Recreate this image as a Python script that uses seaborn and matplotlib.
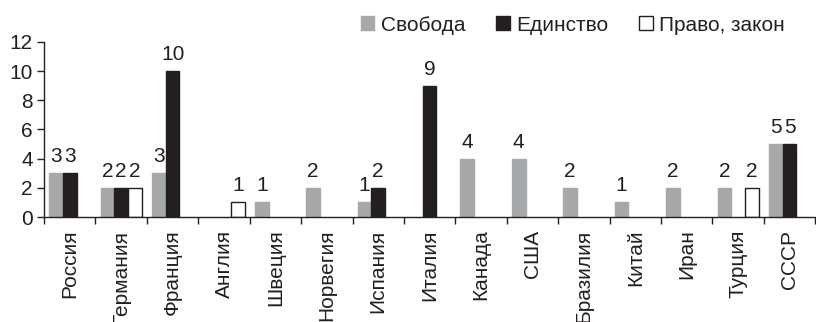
import matplotlib
matplotlib.use("Agg")
import matplotlib.pyplot as plt
import seaborn as sns
import pandas as pd
from matplotlib.patches import Patch
from matplotlib.ticker import FixedLocator

countries = ["Россия", "Германия", "Франция", "Англия", "Швеция", "Норвегия", "Испания",
             "Италия", "Канада", "США", "Бразилия", "Китай", "Иран", "Турция", "СССР"]
series = ["Свобода", "Единство", "Право, закон"]
svoboda = [3, 2, 3, 0, 1, 2, 1, 0, 4, 4, 2, 1, 2, 2, 5]
edinstvo = [3, 2, 10, 0, 0, 0, 2, 9, 0, 0, 0, 0, 0, 0, 5]
pravo = [0, 2, 0, 1, 0, 0, 0, 0, 0, 0, 0, 0, 0, 2, 0]
colors = ["#a7a8aa", "#231f20", "#ffffff"]
edges = ["#a7a8aa", "#231f20", "#231f20"]

rows = []
for s, vals in zip(series, [svoboda, edinstvo, pravo]):
    for c, v in zip(countries, vals):
        rows.append({"country": c, "series": s, "value": v})
df = pd.DataFrame(rows)

sns.set_theme(style="white")
plt.rcParams['font.family'] = ['Liberation Sans', 'DejaVu Sans']
fs = 15

fig = plt.figure(figsize=(8.16, 3.22), dpi=100)
ax = fig.add_axes([0.054, 0.326, 0.945, 0.544])
sns.barplot(data=df, x="country", y="value", hue="series", order=countries,
            hue_order=series, palette=colors, width=0.8, gap=0, ax=ax,
            legend=False, errorbar=None, saturation=1)

for cont, ec in zip(ax.containers, edges):
    for p in cont:
        p.set_edgecolor(ec)
        p.set_linewidth(1.0 if p.get_height() > 0 else 0)
    labels = [("%d" % p.get_height()) if p.get_height() > 0 else "" for p in cont]
    ax.bar_label(cont, labels=labels, padding=5, fontsize=fs, color="#231f20")

ax.set_xlim(-0.5, len(countries) - 0.5)
ax.set_ylim(0, 12)
ax.set_yticks(range(0, 13, 2))
ax.set_xlabel("")
ax.set_ylabel("")
for s in ["top", "right"]:
    ax.spines[s].set_visible(False)
for s in ["left", "bottom"]:
    ax.spines[s].set_color("#231f20")
    ax.spines[s].set_linewidth(1.0)

ax.tick_params(axis="x", which="major", length=0, labelsize=fs, pad=9,
               labelrotation=90, colors="#231f20")
ax.xaxis.set_minor_locator(FixedLocator([i - 0.5 for i in range(len(countries) + 1)]))
ax.tick_params(axis="x", which="minor", length=5, width=1, direction="out",
               color="#231f20", bottom=True)
ax.tick_params(axis="y", length=5, width=1, direction="out", left=True,
               labelsize=fs, colors="#231f20", pad=3)

handles = [Patch(facecolor=c, edgecolor=e, linewidth=1) for c, e in zip(colors, edges)]
fig.legend(handles, series, loc="upper right", bbox_to_anchor=(0.985, 1.01), ncol=3,
           frameon=False, fontsize=fs, handlelength=0.65, handleheight=0.65,
           handletextpad=0.3, columnspacing=1.5, labelcolor="#231f20")

fig.savefig("out.png", dpi=100)
